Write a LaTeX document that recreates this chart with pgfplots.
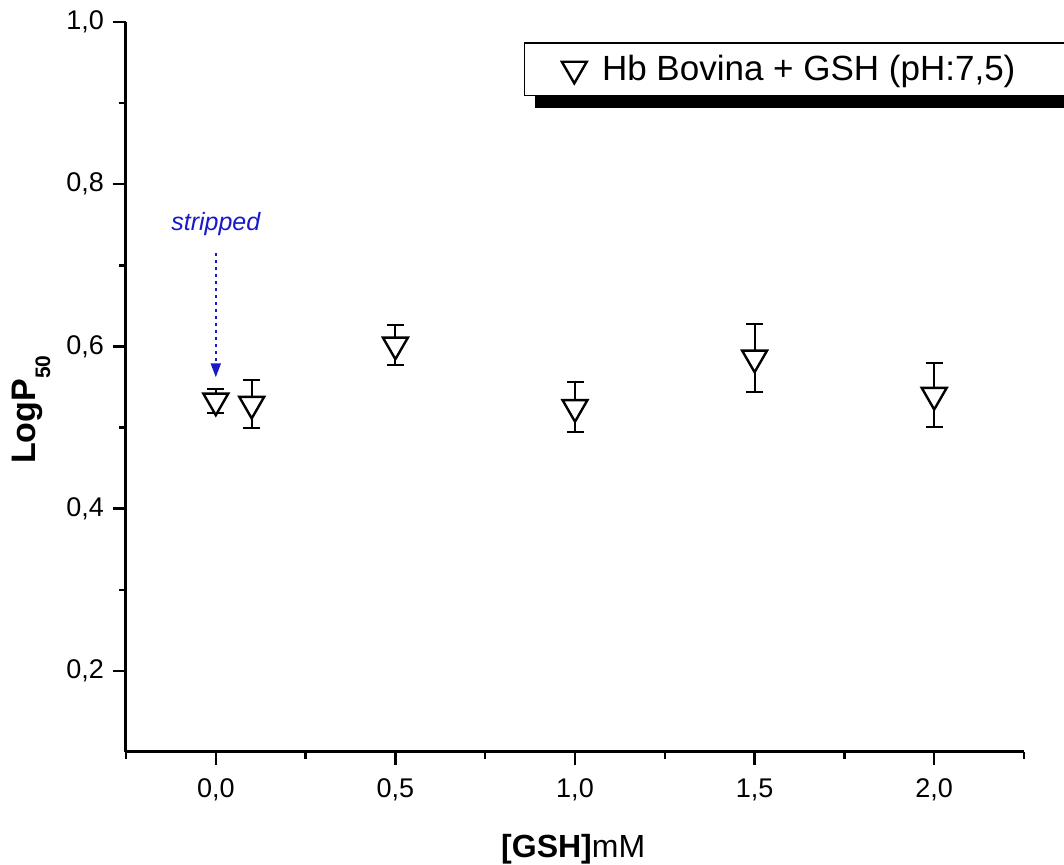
\documentclass[border=0pt]{standalone}
\usepackage{pgfplots}
\pgfplotsset{compat=1.18}
\usepackage{fontspec}
\setmainfont{Liberation Sans}
\usetikzlibrary{shadows,arrows.meta}
\definecolor{annblue}{RGB}{25,25,200}

\pgfplotstableread{
x    y      e
0.0  0.533  0.015
0.1  0.529  0.030
0.5  0.602  0.025
1.0  0.525  0.031
1.5  0.586  0.042
2.0  0.540  0.039
}\datatable

\begin{document}
\begin{tikzpicture}
\begin{axis}[
  scale only axis, width=449pt, height=365pt,
  xmin=-0.25, xmax=2.25, ymin=0.1, ymax=1.0,
  axis lines*=left,
  axis line style={line width=1.5pt},
  xtick={0,0.5,1,1.5,2}, ytick={0.2,0.4,0.6,0.8,1.0},
  minor xtick={-0.25,0.25,0.75,1.25,1.75,2.25},
  minor ytick={0.3,0.5,0.7,0.9},
  tick align=outside,
  major tick length=6.5pt, minor tick length=3.5pt,
  tick style={line width=1.25pt, black},
  minor tick style={line width=1.25pt, black},
  /pgf/number format/use comma,
  /pgf/number format/fixed,
  /pgf/number format/fixed zerofill,
  /pgf/number format/precision=1,
  /pgf/number format/assume math mode=true,
  tick label style={font=\fontsize{13.5}{16}\selectfont},
  xticklabel style={yshift=-3.5pt},
  yticklabel style={xshift=-1pt},
  xlabel={\textbf{[GSH]}mM},
  ylabel={\textbf{LogP\raisebox{-7.5pt}{\fontsize{10.5}{12}\selectfont 50}}},
  every axis x label/.style={at={(axis description cs:0.498,-0.145)}, anchor=base, font=\fontsize{16}{20}\selectfont},
  every axis y label/.style={at={(axis description cs:-0.1013,0.469)}, rotate=90, anchor=base, font=\fontsize{17}{21}\selectfont},
  legend style={at={(rel axis cs:0.443,0.9726)}, anchor=north west,
    draw=black, line width=0.75pt, fill=white,
    general shadow={fill=black, shadow xshift=5pt, shadow yshift=-6.5pt},
    font=\fontsize{17.5}{21}\selectfont,
    inner xsep=0pt, inner ysep=6pt, nodes={inner sep=0pt}},
  legend image code/.code={\path (0pt,0pt) (38pt,0pt); \draw[#1] plot coordinates {(24.5pt,0pt)};},
]
\addplot[only marks, mark=triangle*, mark size=7.2pt,
  mark options={rotate=180, fill=white, line width=1.2pt, draw=black},
  error bars/.cd, y dir=both, y explicit,
  error bar style={line width=1pt, black},
  error mark options={rotate=90, mark size=4.25pt, line width=1pt, black}]
  table[x=x, y=y, y error=e] {\datatable};
\addlegendentry{Hb Bovina + GSH (pH:7,5)\hspace*{40pt}}
\node[annblue, font=\fontsize{12.5}{15}\selectfont\itshape] at (axis cs:0,0.751) {stripped};
\draw[annblue, line width=1pt, dash pattern=on 1.2pt off 2.3pt, -{Triangle[width=5pt,length=7pt]}] (axis cs:0,0.715) -- (axis cs:0,0.562);
\end{axis}
\pgfresetboundingbox
\path[use as bounding box] ([xshift=-63pt,yshift=-56.5pt]current axis.south west) rectangle ([xshift=469pt,yshift=376pt]current axis.south west);
\end{tikzpicture}
\end{document}
